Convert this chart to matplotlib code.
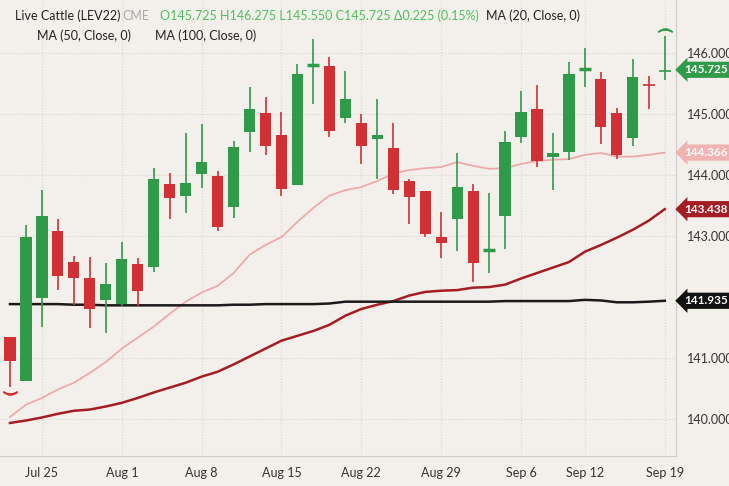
import matplotlib.pyplot as plt
import numpy as np

# trading days Jul 21 .. Sep 19, 2022
opens = [141.34, 140.62, 141.98, 143.08, 142.57, 142.31, 141.95, 141.89, 142.54, 142.49,
         143.85, 143.66, 144.02, 143.98, 143.48, 144.70, 145.02, 144.66, 143.84, 145.79,
         145.79, 144.93, 144.85, 144.59, 144.44, 143.90, 143.74, 142.98, 143.28, 143.74,
         142.75, 143.33, 144.62, 145.08, 144.30, 144.38, 145.72, 145.57, 145.02, 144.61,
         145.48, 145.70]
highs = [141.34, 143.18, 143.75, 143.28, 142.67, 142.66, 142.56, 142.90, 142.64, 144.11,
         144.03, 144.69, 144.84, 144.07, 144.56, 145.44, 145.28, 145.03, 145.82, 146.23,
         145.93, 145.70, 145.00, 145.25, 144.85, 143.93, 143.74, 143.39, 144.36, 143.85,
         143.70, 144.72, 145.38, 145.48, 144.69, 145.85, 146.08, 145.69, 145.10, 145.90,
         145.62, 146.275]
lows = [140.52, 140.62, 141.51, 142.11, 141.87, 141.49, 141.41, 141.85, 141.85, 142.41,
        143.28, 143.38, 143.79, 143.08, 143.30, 144.38, 144.33, 143.66, 143.84, 145.16,
        144.62, 144.85, 144.18, 143.93, 143.69, 143.20, 142.98, 142.64, 142.75, 142.25,
        142.39, 142.79, 144.52, 144.13, 143.75, 144.25, 145.44, 144.51, 144.26, 144.48,
        145.08, 145.55]
closes = [140.95, 142.98, 143.33, 142.34, 142.31, 141.80, 142.21, 142.62, 142.10, 143.93,
          143.62, 143.87, 144.21, 143.15, 144.46, 145.08, 144.48, 143.77, 145.66, 145.82,
          144.72, 145.25, 144.48, 144.66, 143.75, 143.64, 143.03, 142.89, 143.80, 142.56,
          142.80, 144.54, 145.03, 144.23, 144.36, 145.66, 145.75, 144.79, 144.33, 145.61,
          145.46, 145.725]
ma20 = [140.03, 140.23, 140.34, 140.48, 140.59, 140.75, 140.93, 141.15, 141.33, 141.51,
        141.72, 141.92, 142.07, 142.18, 142.39, 142.69, 142.85, 142.98, 143.23, 143.46,
        143.66, 143.75, 143.80, 143.90, 144.02, 144.08, 144.11, 144.13, 144.21, 144.15,
        144.10, 144.11, 144.18, 144.23, 144.25, 144.26, 144.33, 144.36, 144.30, 144.30,
        144.33, 144.366]
ma50 = [139.93, 139.97, 140.02, 140.08, 140.13, 140.15, 140.20, 140.26, 140.34, 140.43,
        140.51, 140.59, 140.69, 140.77, 140.89, 141.02, 141.15, 141.28, 141.36, 141.44,
        141.54, 141.69, 141.80, 141.87, 141.93, 142.02, 142.08, 142.10, 142.11, 142.15,
        142.16, 142.20, 142.30, 142.39, 142.48, 142.57, 142.74, 142.85, 142.97, 143.10,
        143.25, 143.438]
ma100 = [141.88, 141.88, 141.88, 141.88, 141.87, 141.87, 141.86, 141.86, 141.86, 141.86,
         141.86, 141.86, 141.86, 141.86, 141.87, 141.87, 141.88, 141.88, 141.88, 141.88,
         141.89, 141.92, 141.92, 141.92, 141.92, 141.92, 141.92, 141.92, 141.92, 141.92,
         141.92, 141.93, 141.93, 141.93, 141.93, 141.93, 141.95, 141.94, 141.91, 141.91,
         141.92, 141.935]
date_pos = [2, 7, 12, 17, 22, 27, 32, 36, 41]
date_labels = ["Jul 25", "Aug 1", "Aug 8", "Aug 15", "Aug 22", "Aug 29", "Sep 6", "Sep 12", "Sep 19"]
yticks = [140, 141, 143, 144, 145, 146]

bg = "#f3f0eb"
green = "#2f9a48"
red = "#d13135"

plt.rcParams["font.family"] = "Lato"
fig = plt.figure(figsize=(7.29, 4.86), dpi=100, facecolor=bg)
ax = fig.add_axes([0, 0.062, 0.927, 0.938], facecolor=bg)

x = np.arange(len(opens))
for i in x:
    o, h, l, c = opens[i], highs[i], lows[i], closes[i]
    col = green if c >= o else red
    ax.vlines(i, l, h, color=col, lw=1.2, zorder=3)
    if abs(c - o) < 0.06:
        ax.hlines((o + c) / 2, i - 0.38, i + 0.38, color=col, lw=2.5 if i < 40 else 1.2, zorder=3)
    else:
        ax.bar(i, abs(c - o), bottom=min(o, c), width=0.7, color=col, zorder=3)

ax.plot(x, ma20, color="#eeaaa8", lw=1.3, zorder=2)
ax.plot(x, ma50, color="#a51d24", lw=1.8, zorder=2)
ax.plot(x, ma100, color="#1a1a1a", lw=1.8, zorder=2)

# high/low markers
ax.plot(0, lows[0] - 0.1, marker="$\\smile$", color=red, ms=10)
ax.plot(41, highs[41] + 0.1, marker="$\\frown$", color=green, ms=10)

ax.set_xlim(-0.625, 41.69)
ax.set_ylim(139.39, 146.87)
ax.set_xticks(date_pos)
ax.set_xticklabels(date_labels, fontsize=9, color="#333333")
ax.set_yticks(yticks)
ax.yaxis.tick_right()
ax.set_yticklabels([f"{v:.3f}" for v in yticks], fontsize=9, color="#333333")
ax.tick_params(length=0, pad=8)
ax.grid(True, color="#d9d6d0", ls=":", lw=0.8)
for s in ["top", "left"]:
    ax.spines[s].set_visible(False)
ax.spines["right"].set_color("#cccccc")
ax.spines["bottom"].set_color("#cccccc")

labels = [(closes[-1], green), (ma20[-1], "#f0b3b1"), (ma50[-1], "#a51d24"), (ma100[-1], "#111111")]
for val, bc in labels:
    ax.annotate(f"{val:.3f}", xy=(1.0, val), xycoords=("axes fraction", "data"),
                xytext=(6, 0), textcoords="offset points", va="center", ha="left",
                fontsize=8.5, fontweight="bold", color="white",
                bbox=dict(boxstyle="larrow,pad=0.22", fc=bc, ec="none"))

fig.text(15 / 729, 0.958, "Live Cattle (LEV22)", fontsize=9, color="#222222")
fig.text(122 / 729, 0.958, "CME", fontsize=9, color="#aaaaaa")
fig.text(160 / 729, 0.958, "O145.725 H146.275 L145.550 C145.725 \u03940.225 (0.15%)",
         fontsize=9, color="#4fbf5f")
fig.text(486 / 729, 0.958, "MA (20, Close, 0)", fontsize=9, color="#222222")
fig.text(37 / 729, 0.918, "MA (50, Close, 0)", fontsize=9, color="#222222")
fig.text(155 / 729, 0.918, "MA (100, Close, 0)", fontsize=9, color="#222222")

fig.savefig("out.png", dpi=100, facecolor=bg)
